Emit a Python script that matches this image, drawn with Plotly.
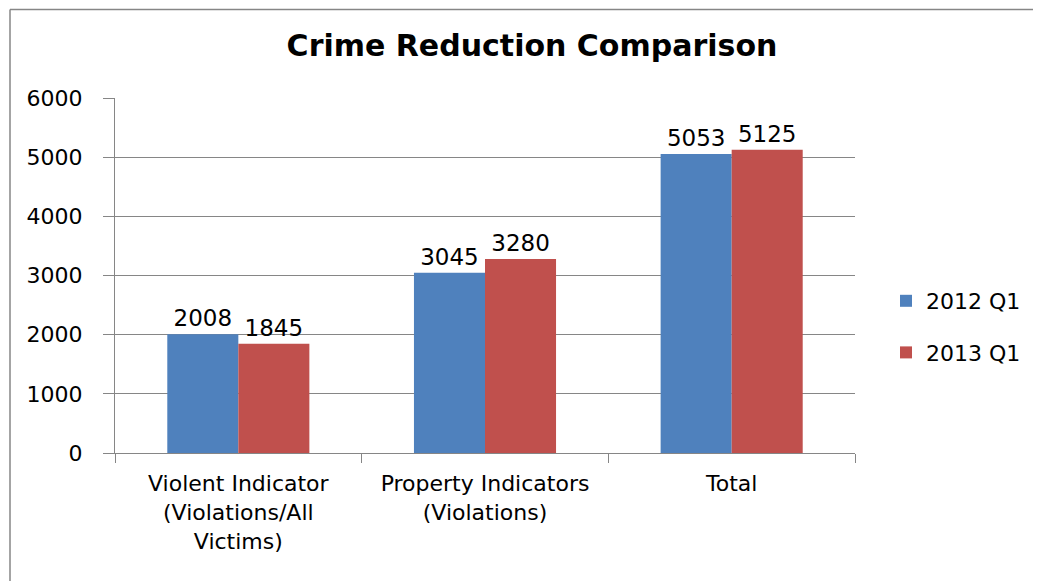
import plotly.graph_objects as go

categories = ["Violent Indicator<br>(Violations/All<br>Victims)",
              "Property Indicators<br>(Violations)",
              "Total"]
series_names = ["2012 Q1", "2013 Q1"]
values_2012 = [2008, 3045, 5053]
values_2013 = [1845, 3280, 5125]
colors = ["#4F81BD", "#C0504D"]
y_ticks = [0, 1000, 2000, 3000, 4000, 5000, 6000]

# page has an 8px body margin; figure sized to fit the window
W, H = 1033, 573
L, R, T, B = 107, 847, 90, 445
FONT = "DejaVu Sans"

fig = go.Figure()
for name, vals, col in zip(series_names, [values_2012, values_2013], colors):
    fig.add_trace(go.Bar(
        name=name, x=categories, y=vals, legendgroup=name,
        marker=dict(color=col, line=dict(width=0)),
        text=[str(v) for v in vals], textposition="outside", cliponaxis=False,
        textfont=dict(family=FONT, size=23, color="black"),
    ))

fig.update_layout(
    width=W, height=H,
    margin=dict(l=L, r=W - R, t=T, b=H - B, pad=0),
    paper_bgcolor="white", plot_bgcolor="white",
    barmode="group", bargap=0.424, bargroupgap=0,
    title=dict(text="<b>Crime Reduction Comparison</b>", x=524 / W, xanchor="center",
               y=1 - 37 / H, yanchor="middle",
               font=dict(family="DejaVu Sans", size=30, color="black")),
    legend=dict(x=(878 - L) / (R - L), y=(B - 319) / (B - T), xanchor="left", yanchor="middle",
                font=dict(family=FONT, size=22, color="black"),
                itemwidth=30, tracegroupgap=20, bgcolor="rgba(0,0,0,0)"),
    showlegend=True,
)
fig.update_yaxes(range=[0, 6000], tickvals=y_ticks, showgrid=True, gridcolor="#868686", gridwidth=1,
                 showline=True, linecolor="#868686", linewidth=1, ticks="outside", ticklen=11,
                 tickcolor="#868686", zeroline=False, ticklabelstandoff=16,
                 tickfont=dict(family=FONT, size=22, color="black"))
fig.update_xaxes(showline=True, linecolor="#868686", linewidth=1, ticks="outside", ticklen=9,
                 tickcolor="#868686", tickson="boundaries", ticklabelstandoff=11,
                 tickfont=dict(family=FONT, size=22, color="black"))

# chart border (Excel chart area outline): left and top edges only are visible
bx0 = (2 - L) / (R - L)
bx1 = (W + 20 - L) / (R - L)
by_top = (B - 1.5) / (B - T)
by_bot = (B - H - 20) / (B - T)
fig.add_shape(type="line", xref="paper", yref="paper", x0=bx0, x1=bx1, y0=by_top, y1=by_top,
              line=dict(color="#868686", width=1.5), layer="below")
fig.add_shape(type="line", xref="paper", yref="paper", x0=bx0, x1=bx0, y0=by_top, y1=by_bot,
              line=dict(color="#868686", width=1.5), layer="below")

fig.write_html("out.html",
               post_script="document.documentElement.style.overflow='hidden';"
                           "document.body.style.overflow='hidden';")
